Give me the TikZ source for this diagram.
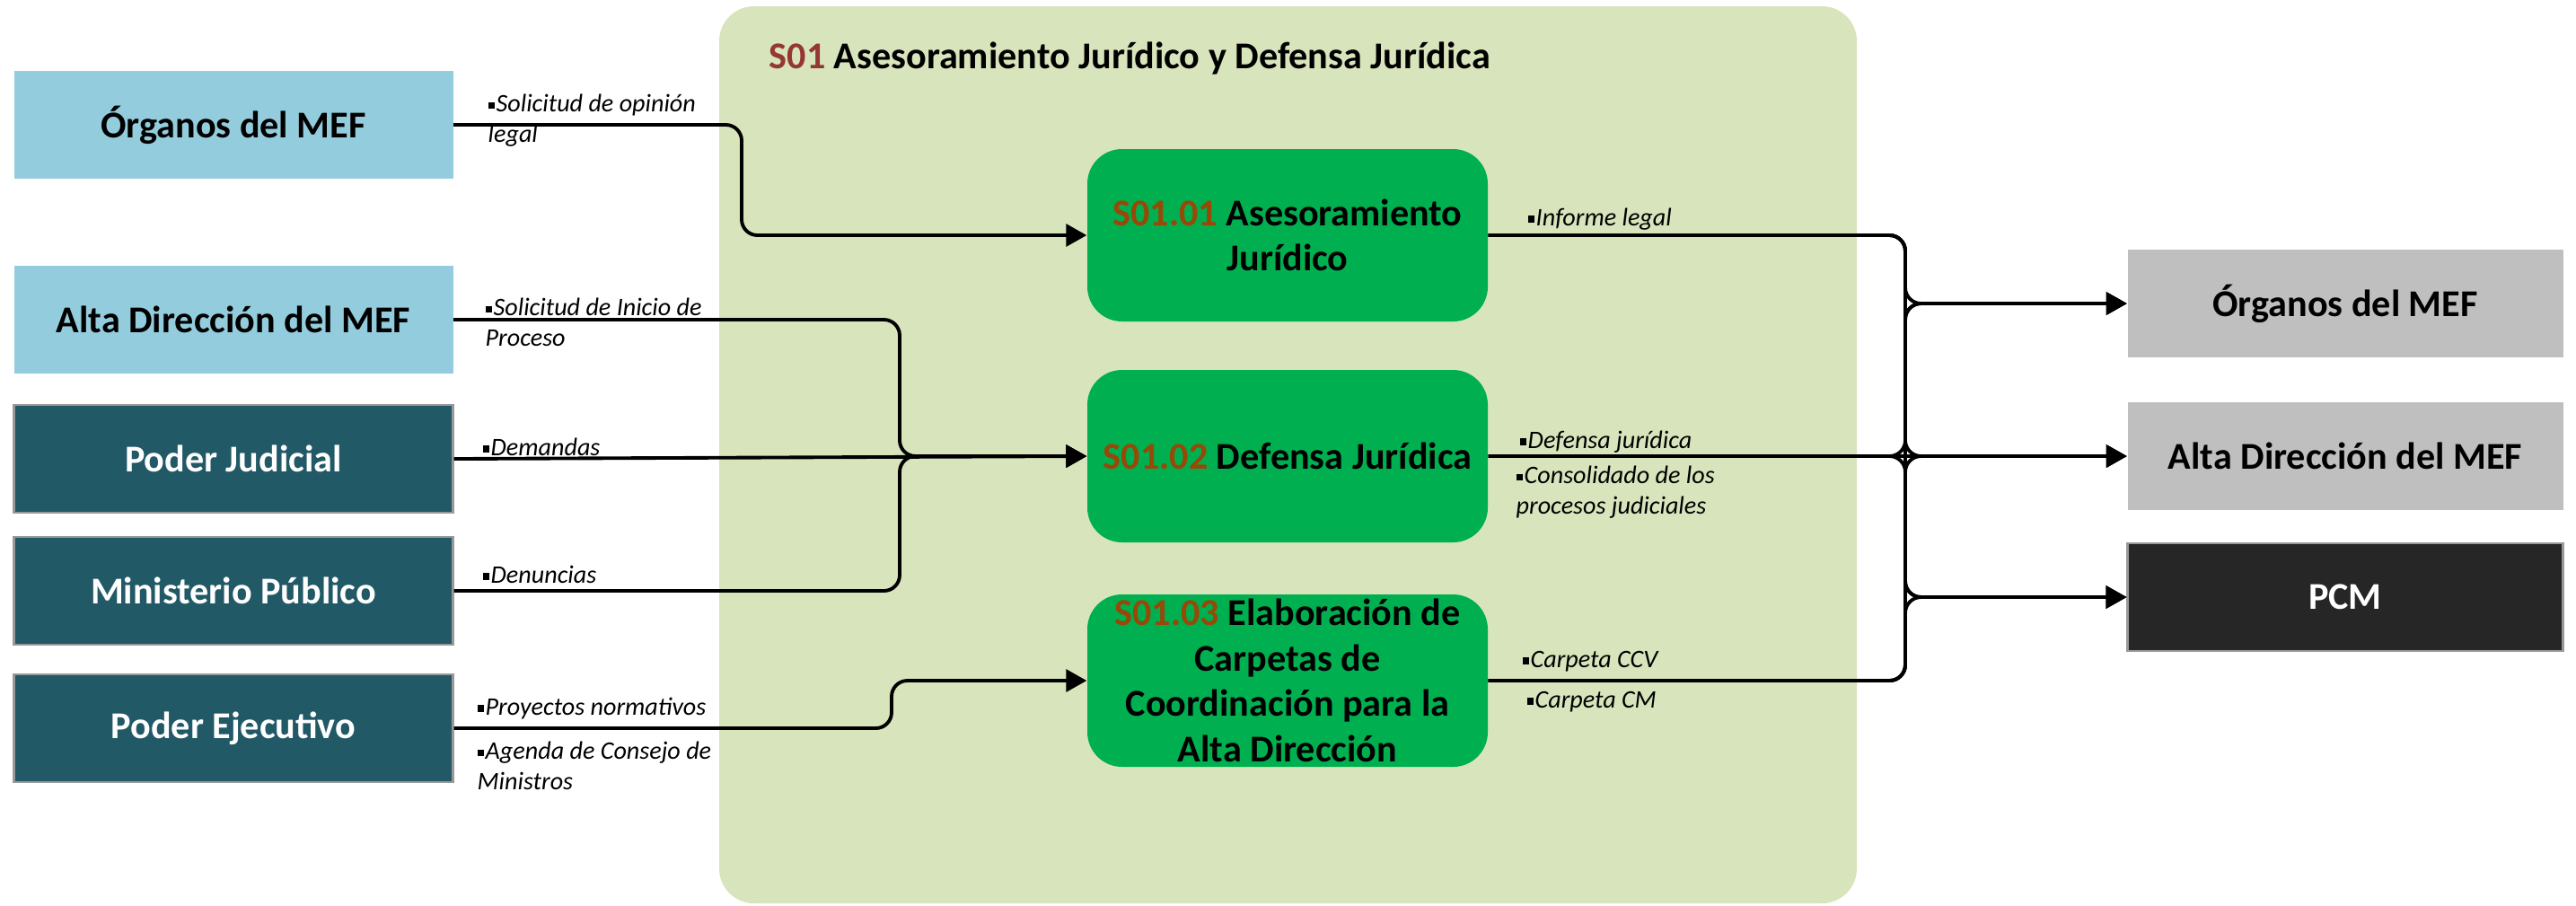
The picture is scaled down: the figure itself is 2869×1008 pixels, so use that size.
\documentclass[tikz,border=0pt]{standalone}
\usepackage{fontspec}
\setmainfont{Carlito}
\usetikzlibrary{arrows.meta}
\definecolor{mefblue}{HTML}{93CDDD}
\definecolor{mefteal}{HTML}{215967}
\definecolor{mefgray}{HTML}{BFBFBF}
\definecolor{pcmdark}{HTML}{262626}
\definecolor{procbg}{HTML}{D8E4BC}
\definecolor{procgreen}{HTML}{00B050}
\definecolor{codered}{HTML}{953735}
\definecolor{codebrown}{HTML}{984807}
\newcommand{\itm}{\rule[0.12em]{0.27em}{0.27em}\hspace{0.05em}}
\tikzset{
  boxtext/.style={font=\bfseries\fontsize{12}{14.4}\selectfont, align=center, inner sep=0pt},
  srcbox/.style={boxtext, minimum width=4.89cm, minimum height=1.2cm},
  lightsrc/.style={srcbox, fill=mefblue},
  darksrc/.style={srcbox, fill=mefteal, draw=gray!80, line width=0.6pt, text=white},
  dstbox/.style={boxtext, minimum width=4.85cm, minimum height=1.2cm, fill=mefgray},
  procbox/.style={boxtext, fill=procgreen, rounded corners=11pt, minimum width=4.46cm, minimum height=1.92cm},
  lbl/.style={font=\itshape\fontsize{8}{9.5}\selectfont, align=left, inner sep=0pt, anchor=base west},
  flow/.style={line width=1.1pt, rounded corners=5pt, -{Triangle[length=6.5pt,width=7pt]}}
}
\begin{document}
\begin{tikzpicture}[x=0.1mm, y=-0.1mm]
  \useasboundingbox (0,0) rectangle (2869,1008);
  % process area
  \fill [procbg, rounded corners=11pt] (801,7) rectangle (2068,1006);
  \node [boxtext, anchor=base west] (title) at (856,76)
    {\textcolor{codered}{S01} Asesoramiento Jurídico y Defensa Jurídica};

  % sources
  \node [lightsrc] (orgin) at (260,139) {Órganos del MEF};
  \node [lightsrc] (altain) at (260,356) {Alta Dirección del MEF};
  \node [darksrc] (judicial) at (260,511) {Poder Judicial};
  \node [darksrc] (ministerio) at (260,658) {Ministerio Público};
  \node [darksrc] (ejecutivo) at (260,811) {Poder Ejecutivo};

  % processes
  \node [procbox] (s1) at (1434,262) {\textcolor{codebrown}{S01.01} Asesoramiento\\Jurídico};
  \node [procbox] (s2) at (1434,508) {\textcolor{codebrown}{S01.02} Defensa Jurídica};
  \node [procbox] (s3) at (1434,758) {\textcolor{codebrown}{S01.03} Elaboración de\\Carpetas de\\Coordinación para la\\Alta Dirección};

  % destinations
  \node [dstbox] (orgout) at (2612,338) {Órganos del MEF};
  \node [dstbox] (altaout) at (2612,508) {Alta Dirección del MEF};
  \node [dstbox, fill=pcmdark, draw=gray!80, line width=0.6pt, text=white] (pcm) at (2612,665) {PCM};

  % inputs
  \coordinate (jorg) at (826,262);
  \coordinate (jdef) at (1002,508);
  \coordinate (jeje) at (993,758);
  \draw [flow] (orgin.east) -| (jorg) -- (s1.west);
  \draw [flow] (altain.east) -| (jdef) -- (s2.west);
  \draw [flow] (ministerio.east) -| (jdef) -- (s2.west);
  \draw [flow] (judicial.east) -- (s2.west);
  \draw [flow] (ejecutivo.east) -| (jeje) -- (s3.west);

  % outputs
  \coordinate (bus) at (2122,0);
  \foreach \s/\d in {s1/orgout, s1/altaout, s1/pcm, s2/orgout, s2/pcm, s3/orgout, s3/altaout, s3/pcm}
    \draw [flow] (\s.east) -| (bus |- \d.west) -- (\d.west);
  \draw [flow] (s2.east) -- (altaout.west);

  % labels (base = last line)
  \node [lbl] (lopinion) at (543,158) {\itm Solicitud de opinión\\legal};
  \node [lbl] (linicio) at (540,385) {\itm Solicitud de Inicio de\\Proceso};
  \node [lbl] (ldemandas) at (537,507) {\itm Demandas};
  \node [lbl] (ldenuncias) at (537,649) {\itm Denuncias};
  \node [lbl] (lproyectos) at (531,796) {\itm Proyectos normativos};
  \node [lbl] (lagenda) at (531,879) {\itm Agenda de Consejo de\\Ministros};
  \node [lbl] (linforme) at (1701,251) {\itm Informe legal};
  \node [lbl] (ldefensa) at (1692,499) {\itm Defensa jurídica};
  \node [lbl] (lconsol) at (1688,572) {\itm Consolidado de los\\procesos judiciales};
  \node [lbl] (lccv) at (1695,743) {\itm Carpeta CCV};
  \node [lbl] (lcm) at (1700,788) {\itm Carpeta CM};
\end{tikzpicture}
\end{document}
